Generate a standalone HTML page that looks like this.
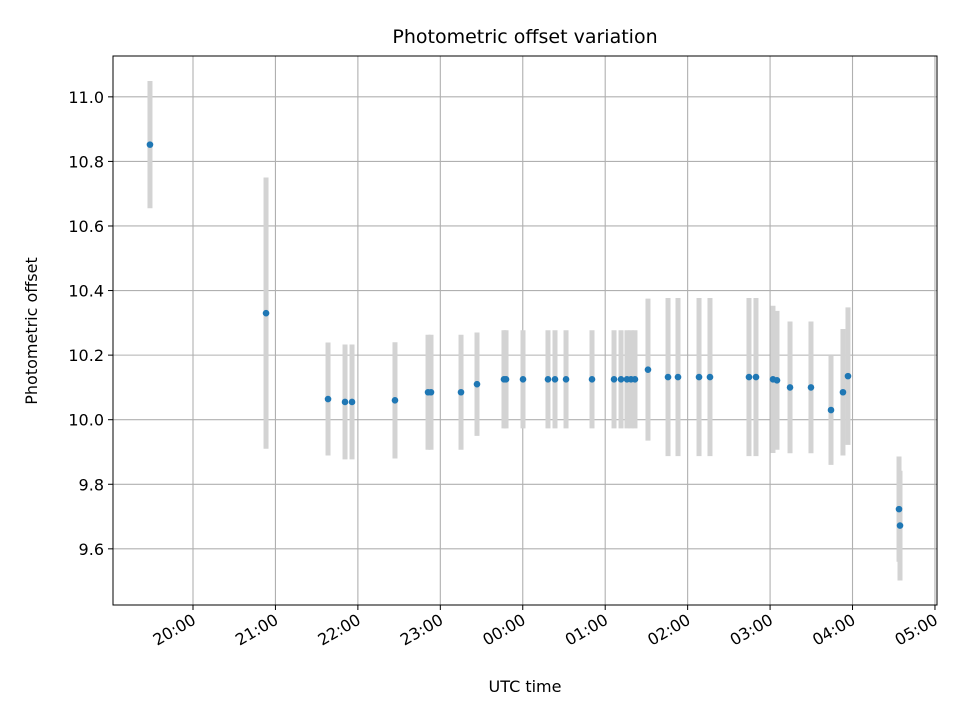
<!DOCTYPE html>
<html><head><meta charset="utf-8"><style>
body{margin:0;background:#fff;width:960px;height:720px;overflow:hidden}
svg text{font-family:"DejaVu Sans","Liberation Sans",sans-serif;fill:#000}
</style></head><body>
<svg id="chart" width="960" height="720" xmlns="http://www.w3.org/2000/svg">
<rect width="960" height="720" fill="#fff"/>
<g id="grid"></g><g id="bars"></g><g id="pts"></g><g id="axes"></g>
<text x="525" y="43" style="font-size:19px" text-anchor="middle">Photometric offset variation</text>
<text x="525" y="692" style="font-size:16px" text-anchor="middle">UTC time</text>
<text x="37" y="331" style="font-size:16px" text-anchor="middle" transform="rotate(-90 37 331)">Photometric offset</text>
</svg>
<script>
const times=[19.478,20.886,21.638,21.844,21.929,22.450,22.851,22.887,23.251,23.445,23.772,23.797,24.003,24.306,24.391,24.525,24.840,25.107,25.192,25.264,25.313,25.361,25.519,25.762,25.883,26.138,26.271,26.744,26.829,27.035,27.084,27.242,27.496,27.739,27.884,27.945,28.564,28.576];
const values=[10.852,10.33,10.064,10.055,10.055,10.06,10.085,10.085,10.085,10.11,10.125,10.125,10.125,10.125,10.125,10.125,10.125,10.125,10.125,10.125,10.125,10.125,10.155,10.132,10.132,10.132,10.132,10.132,10.132,10.125,10.122,10.10,10.10,10.03,10.085,10.135,9.723,9.672];
const errors=[0.197,0.42,0.175,0.178,0.178,0.18,0.178,0.178,0.178,0.16,0.152,0.152,0.152,0.152,0.152,0.152,0.152,0.152,0.152,0.152,0.152,0.152,0.22,0.245,0.245,0.245,0.245,0.245,0.245,0.228,0.215,0.204,0.204,0.17,0.196,0.213,0.163,0.17];
const yTicks=[9.6,9.8,10.0,10.2,10.4,10.6,10.8,11.0];
const xTicks=[20,21,22,23,24,25,26,27,28,29];
const xTickLabels=["20:00","21:00","22:00","23:00","00:00","01:00","02:00","03:00","04:00","05:00"];
const L=113,R=937,T=56,B=605;
const xs=t=>193+(t-20)*82.44;
const ys=v=>419.7-(v-10)*322.86;
const NS="http://www.w3.org/2000/svg";
function mk(p,tag,a){const e=document.createElementNS(NS,tag);for(const k in a)e.setAttribute(k,a[k]);p.appendChild(e);return e;}
const grid=document.getElementById('grid'),axes=document.getElementById('axes'),bars=document.getElementById('bars'),pts=document.getElementById('pts');
yTicks.forEach(v=>{const y=ys(v);
 const g=mk(grid,'line',{x1:L,x2:R,y1:y,y2:y,stroke:'#b0b0b0','stroke-width':1.1});
 
 
 mk(axes,'line',{x1:L-5,x2:L,y1:y,y2:y,stroke:'#000','stroke-width':1});
 const t=mk(axes,'text',{x:L-9,y:y+6,style:'font-size:16px','text-anchor':'end'});t.textContent=v.toFixed(1);
 
 
});
xTicks.forEach((h,i)=>{const x=xs(h);
 const g=mk(grid,'line',{x1:x,x2:x,y1:T,y2:B,stroke:'#b0b0b0','stroke-width':1.1});
 
 
 mk(axes,'line',{x1:x,x2:x,y1:B,y2:B+5,stroke:'#000','stroke-width':1});
 const t=mk(axes,'text',{x:x+4,y:B+18,style:'font-size:16px','text-anchor':'end',transform:`rotate(-30 ${x+4} ${B+18})`});t.textContent=xTickLabels[i];
 
 
});
const fr=mk(axes,'rect',{x:L,y:T,width:R-L,height:B-T,fill:'none',stroke:'#000','stroke-width':1});


times.forEach((t,i)=>{const x=xs(t);
 const b=mk(bars,'line',{x1:x,x2:x,y1:ys(values[i]+errors[i]),y2:ys(values[i]-errors[i]),stroke:'#d3d3d3','stroke-width':5});
 
 
 const c=mk(pts,'circle',{cx:x,cy:ys(values[i]),r:3.3,fill:'#1f77b4'});
 
 
});
</script>
</body></html>
